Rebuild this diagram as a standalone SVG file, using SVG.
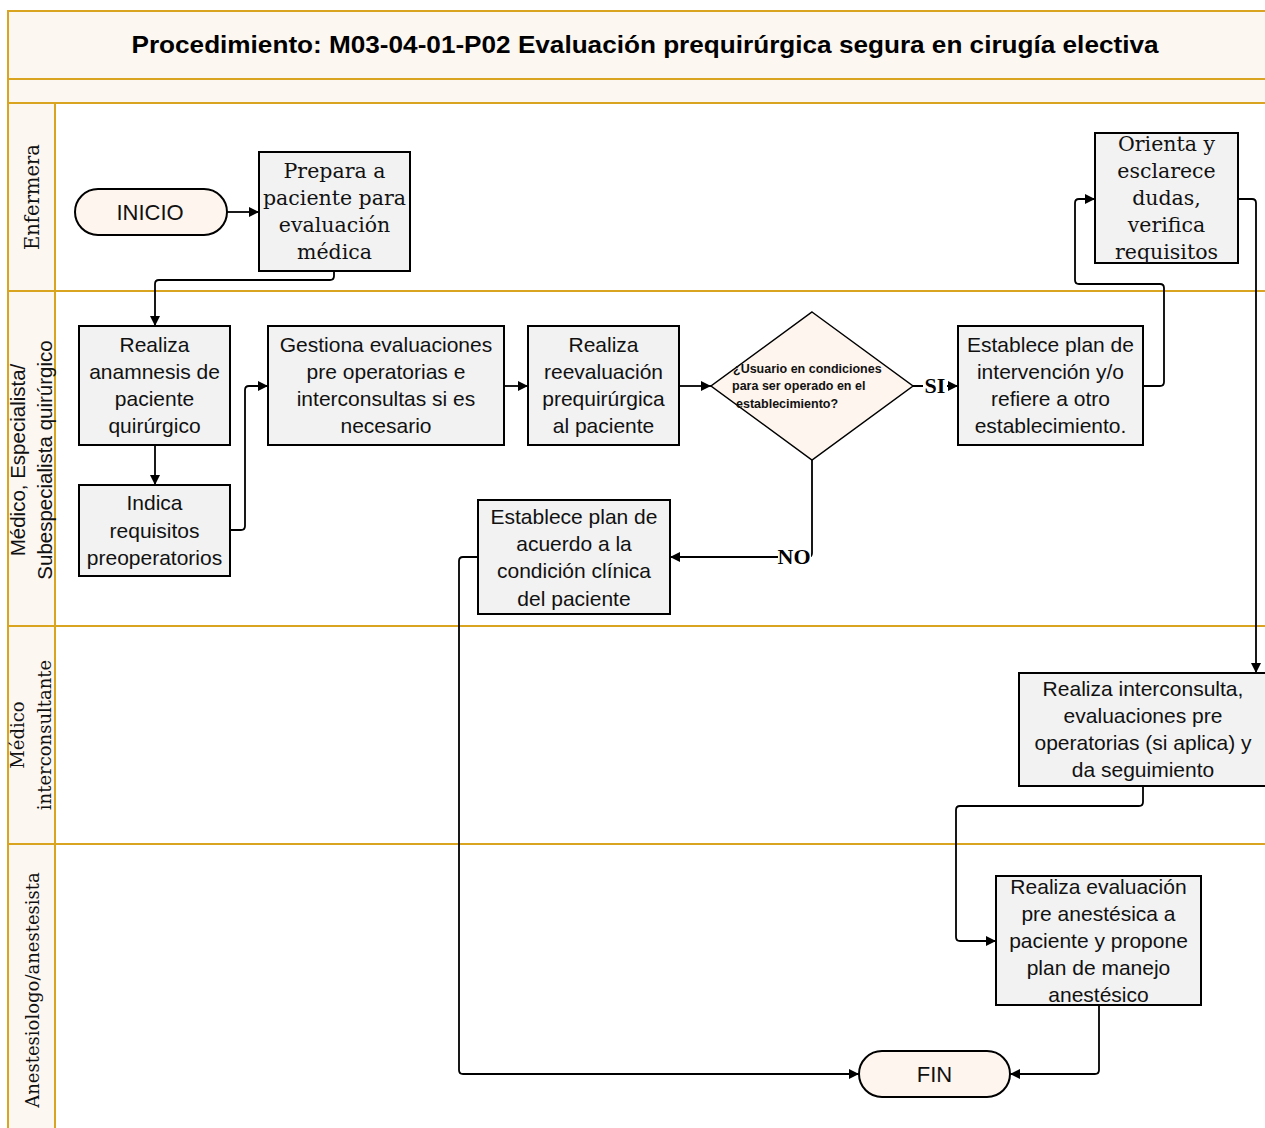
<svg xmlns="http://www.w3.org/2000/svg" width="1265" height="1128" viewBox="0 0 1265 1128">
  <defs>
    <marker id="arrow" viewBox="0 0 10 10" refX="10" refY="5" markerWidth="11" markerHeight="10" orient="auto" markerUnits="userSpaceOnUse">
      <path d="M0,0 L10,5 L0,10 z" fill="#000"/>
    </marker>
    <style>
      .frame { fill: #FDF7F1; stroke: #D9A520; stroke-width: 2; }
      .body { fill: #FFFFFF; stroke: #D9A520; stroke-width: 2; }
      .lane { stroke: #D9A520; stroke-width: 2; fill: none; }
      .box { fill: #F2F2F2; stroke: #000; stroke-width: 2; }
      .term { fill: #FDF5EE; stroke: #000; stroke-width: 2; }
      .dec { fill: #FDF5EE; stroke: #000; stroke-width: 1.5; }
      .sans { font-family: "Liberation Sans", Arial, sans-serif; font-size: 21px; fill: #111; text-anchor: middle; }
      .serif { font-family: "DejaVu Serif", "Liberation Serif", serif; font-size: 20.5px; fill: #111; text-anchor: middle; }
      .lanelbl { font-family: "DejaVu Serif", "Liberation Serif", serif; font-size: 18px; fill: #111; text-anchor: middle; }
      .lanelbl-s { font-family: "Liberation Sans", Arial, sans-serif; font-size: 20.5px; fill: #111; text-anchor: middle; }
      .title { font-family: "Liberation Sans", Arial, sans-serif; font-size: 23px; font-weight: bold; fill: #000; text-anchor: middle; }
      .dtext { font-family: "Liberation Sans", Arial, sans-serif; font-size: 12.5px; font-weight: bold; fill: #111; }
      .cond { font-family: "Liberation Serif", "Times New Roman", serif; font-size: 22px; font-weight: bold; fill: #000; text-anchor: middle; }
      .conn { fill: none; stroke: #000; stroke-width: 1.8; stroke-linejoin: round; marker-end: url(#arrow); }
    </style>
  </defs>

  <!-- pool frame, title band and swimlanes -->
  <g id="pool">
    <rect class="frame" x="8" y="11" width="1270" height="1130"/>
    <rect class="body" x="55" y="103" width="1223" height="1038"/>
    <line class="lane" x1="8" y1="79" x2="1265" y2="79"/>
    <line class="lane" x1="8" y1="103" x2="1265" y2="103"/>
    <line class="lane" x1="8" y1="291" x2="1265" y2="291"/>
    <line class="lane" x1="8" y1="626" x2="1265" y2="626"/>
    <line class="lane" x1="8" y1="844" x2="1265" y2="844"/>
    <text class="title" x="645" y="53" textLength="1027" lengthAdjust="spacingAndGlyphs">Procedimiento: M03-04-01-P02 Evaluación prequirúrgica segura en cirugía electiva</text>
  </g>

  <!-- lane titles -->
  <g id="lane-labels">
    <text class="lanelbl" transform="translate(39,197) rotate(-90)" style="font-size:19.5px">Enfermera</text>
    <text class="lanelbl-s" transform="translate(25,460) rotate(-90)">Médico, Especialista/</text>
    <text class="lanelbl-s" transform="translate(52,460) rotate(-90)">Subespecialista quirúrgico</text>
    <text class="lanelbl" transform="translate(24,735) rotate(-90)">Médico</text>
    <text class="lanelbl" transform="translate(51,735) rotate(-90)">interconsultante</text>
    <text class="lanelbl" transform="translate(39,990) rotate(-90)">Anestesiologo/anestesista</text>
  </g>

  <!-- connectors -->
  <g id="connectors">
    <path class="conn" d="M227,212 H259"/>
    <path class="conn" d="M334,271 V276 Q334,280 330,280 H159 Q155,280 155,284 V326"/>
    <path class="conn" d="M155,445 V485"/>
    <path class="conn" d="M230,530 H241 Q245,530 245,526 V390 Q245,386 249,386 H268"/>
    <path class="conn" d="M504,386 H528"/>
    <path class="conn" d="M679,386 H711"/>
    <path class="conn" d="M913,386 H958"/>
    <path class="conn" d="M1143,386 H1160 Q1164,386 1164,382 V288 Q1164,284 1160,284 H1079 Q1075,284 1075,280 V203 Q1075,199 1079,199 H1095"/>
    <path class="conn" d="M1238,199 H1252 Q1256,199 1256,203 V673"/>
    <path class="conn" d="M812,460 V553 Q812,557 808,557 H670"/>
    <path class="conn" d="M478,557 H463 Q459,557 459,561 V1070 Q459,1074 463,1074 H859"/>
    <path class="conn" d="M1143,786 V802 Q1143,806 1139,806 H960 Q956,806 956,810 V937 Q956,941 960,941 H996"/>
    <path class="conn" d="M1099,1005 V1070 Q1099,1074 1095,1074 H1010"/>
    <rect x="923" y="374" width="24" height="24" fill="#FFFFFF"/>
    <text class="cond" x="935" y="393">SI</text>
    <rect x="778" y="545" width="33" height="24" fill="#FFFFFF"/>
    <text class="cond" x="794" y="564">NO</text>
  </g>

  <g id="inicio">
    <rect class="term" x="75" y="189" width="152" height="46" rx="23"/>
    <text class="sans" x="150" y="220" style="font-size:22px">INICIO</text>
  </g>

  <g id="prepara">
    <rect class="box" x="259" y="152" width="151" height="119"/>
    <text class="serif" x="334.5" y="178">Prepara a</text>
    <text class="serif" x="334.5" y="205">paciente para</text>
    <text class="serif" x="334.5" y="232">evaluación</text>
    <text class="serif" x="334.5" y="259">médica</text>
  </g>

  <g id="anamnesis">
    <rect class="box" x="79" y="326" width="151" height="119"/>
    <text class="sans" x="154.5" y="352">Realiza</text>
    <text class="sans" x="154.5" y="379">anamnesis de</text>
    <text class="sans" x="154.5" y="406">paciente</text>
    <text class="sans" x="154.5" y="433">quirúrgico</text>
  </g>

  <g id="indica">
    <rect class="box" x="79" y="485" width="151" height="91"/>
    <text class="sans" x="154.5" y="510">Indica</text>
    <text class="sans" x="154.5" y="538">requisitos</text>
    <text class="sans" x="154.5" y="565">preoperatorios</text>
  </g>

  <g id="gestiona">
    <rect class="box" x="268" y="326" width="236" height="119"/>
    <text class="sans" x="386" y="352">Gestiona evaluaciones</text>
    <text class="sans" x="386" y="379">pre operatorias e</text>
    <text class="sans" x="386" y="406">interconsultas si es</text>
    <text class="sans" x="386" y="433">necesario</text>
  </g>

  <g id="reevaluacion">
    <rect class="box" x="528" y="326" width="151" height="119"/>
    <text class="sans" x="603.5" y="352">Realiza</text>
    <text class="sans" x="603.5" y="379">reevaluación</text>
    <text class="sans" x="603.5" y="406">prequirúrgica</text>
    <text class="sans" x="603.5" y="433">al paciente</text>
  </g>

  <g id="decision">
    <polygon class="dec" points="812,312 913,386 812,460 711,386"/>
    <text class="dtext" x="733" y="373">¿Usuario en condiciones</text>
    <text class="dtext" x="732" y="390">para ser operado en el</text>
    <text class="dtext" x="736" y="408">establecimiento?</text>
  </g>

  <g id="plan-intervencion">
    <rect class="box" x="958" y="326" width="185" height="119"/>
    <text class="sans" x="1050.5" y="352">Establece plan de</text>
    <text class="sans" x="1050.5" y="379">intervención y/o</text>
    <text class="sans" x="1050.5" y="406">refiere a otro</text>
    <text class="sans" x="1050.5" y="433">establecimiento.</text>
  </g>

  <g id="orienta">
    <rect class="box" x="1095" y="133" width="143" height="130"/>
    <text class="serif" x="1166.5" y="151">Orienta y</text>
    <text class="serif" x="1166.5" y="178">esclarece</text>
    <text class="serif" x="1166.5" y="205">dudas,</text>
    <text class="serif" x="1166.5" y="232">verifica</text>
    <text class="serif" x="1166.5" y="259">requisitos</text>
  </g>

  <g id="plan-clinico">
    <rect class="box" x="478" y="500" width="192" height="114"/>
    <text class="sans" x="574" y="524">Establece plan de</text>
    <text class="sans" x="574" y="551">acuerdo a la</text>
    <text class="sans" x="574" y="578">condición clínica</text>
    <text class="sans" x="574" y="606">del paciente</text>
  </g>

  <g id="interconsulta">
    <rect class="box" x="1019" y="673" width="260" height="113"/>
    <text class="sans" x="1143" y="696">Realiza interconsulta,</text>
    <text class="sans" x="1143" y="723">evaluaciones pre</text>
    <text class="sans" x="1143" y="750">operatorias (si aplica) y</text>
    <text class="sans" x="1143" y="777">da seguimiento</text>
  </g>

  <g id="anestesica">
    <rect class="box" x="996" y="876" width="205" height="129"/>
    <text class="sans" x="1098.5" y="894">Realiza evaluación</text>
    <text class="sans" x="1098.5" y="921">pre anestésica a</text>
    <text class="sans" x="1098.5" y="948">paciente y propone</text>
    <text class="sans" x="1098.5" y="975">plan de manejo</text>
    <text class="sans" x="1098.5" y="1002">anestésico</text>
  </g>

  <g id="fin">
    <rect class="term" x="859" y="1051" width="151" height="46" rx="23"/>
    <text class="sans" x="934.5" y="1082" style="font-size:22px">FIN</text>
  </g>
</svg>
